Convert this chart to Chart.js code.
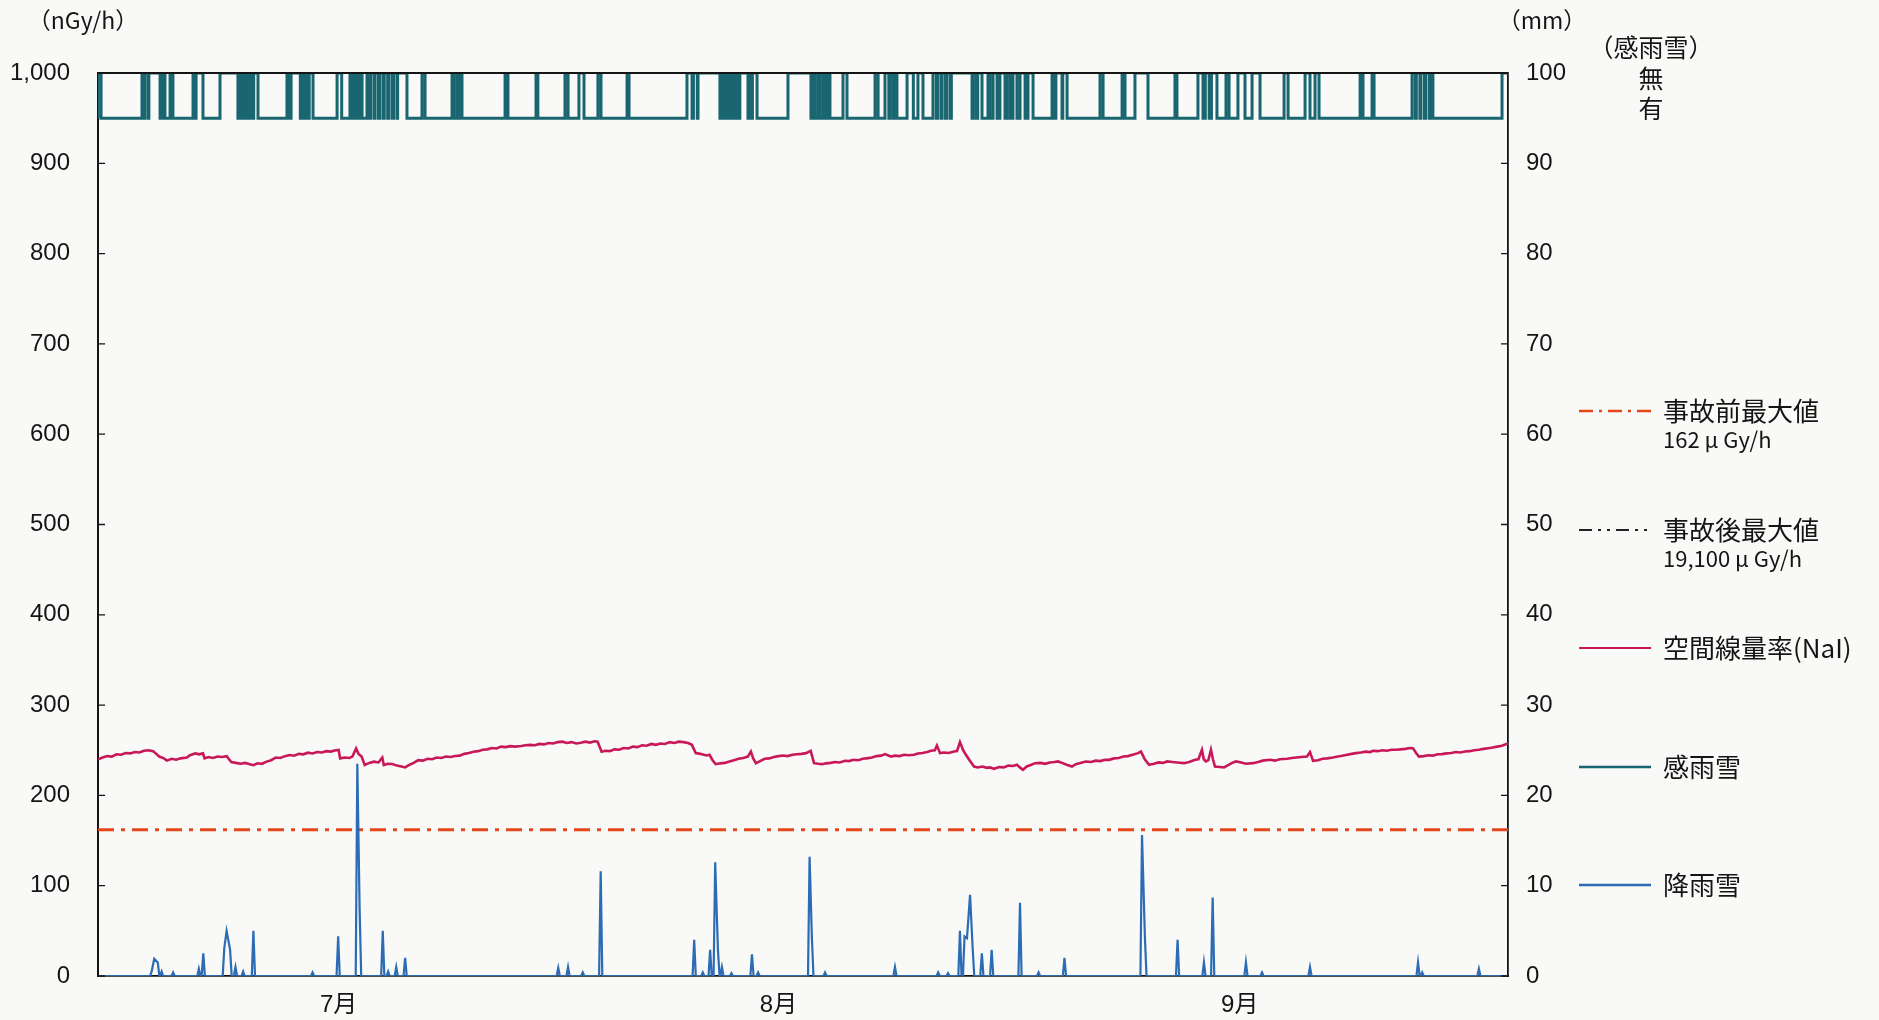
<!DOCTYPE html>
<html lang="ja">
<head>
<meta charset="utf-8">
<title>空間線量率・感雨雪・降雨雪</title>
<script src="https://cdn.jsdelivr.net/npm/chart.js@4.4.1/dist/chart.umd.min.js"></script>
<style>
  html, body { margin: 0; padding: 0; background: #f9f9f7; }
  canvas { display: block; }
</style>
</head>
<body>
<canvas id="c" width="1879" height="1020"></canvas>
<script>
// ---- data (x = days from the start of July) ----
const dayMax = 92;
const monthLabels = ['7月', '8月', '9月'];
const monthLabelDays = [15.7, 44.4, 74.5];

const doseTicks = [0, 100, 200, 300, 400, 500, 600, 700, 800, 900, 1000];
const rainTicks = [0, 10, 20, 30, 40, 50, 60, 70, 80, 90, 100];

// pre-accident maximum (nGy/h)
const preAccidentMax = 162;

// air dose rate, NaI detector [day, nGy/h]
const doseRateNaI = [
  [0,240],[0.3,242],[0.6,243.5],[0.9,243],[1.2,245.5],[1.5,245],[1.8,247],[2.1,246.5],[2.4,248],[2.7,247.5],
  [3.0,249.5],[3.3,250],[3.6,249],[3.8,246],[4.0,243],[4.3,241],[4.5,238.5],[4.8,240.5],[5.1,239.5],[5.4,241],
  [5.8,242],[6.0,244.5],[6.35,246.5],[6.6,245.5],[6.85,246.5],[6.95,241],[7.2,242.5],[7.5,241.5],[7.8,243],[8.1,242.5],
  [8.4,243.5],[8.55,240],[8.7,237],[9.0,236],[9.3,235],[9.6,236],[9.9,234.5],[10.15,233.5],[10.4,235.6],[10.7,235],
  [11.0,237.4],[11.3,239],[11.6,242],[11.9,241.5],[12.2,243.5],[12.5,244.7],[12.8,244],[13.1,246],[13.4,245.5],[13.7,247.3],
  [14.0,246.5],[14.3,248],[14.6,247.5],[14.9,249],[15.2,248.5],[15.5,250],[15.7,250.3],[15.8,241],[16.1,242],[16.4,241.5],
  [16.6,243],[16.84,252],[17.0,246],[17.2,243],[17.4,233.7],[17.7,236],[18.0,237.4],[18.3,236.5],[18.55,242],[18.65,233.7],
  [18.9,235],[19.2,234.8],[19.5,233],[19.8,232],[20.05,231],[20.3,233.7],[20.6,236],[20.9,239],[21.2,238.5],[21.5,240.5],
  [21.8,240],[22.1,242],[22.4,241.5],[22.7,243],[23.0,242.5],[23.3,243.6],[23.6,244],[23.9,246],[24.2,247],[24.5,248.4],
  [24.8,249],[25.1,250.5],[25.4,251],[25.7,252.5],[26.0,252],[26.3,254],[26.6,253.5],[26.9,254.5],[27.2,254],[27.6,254.7],
  [27.9,255.5],[28.2,256],[28.5,255.5],[28.8,257],[29.1,256.5],[29.4,258],[29.7,257.5],[30.0,259],[30.3,259.5],[30.6,258],
  [30.9,259],[31.2,257.5],[31.5,258.4],[31.8,259.5],[32.1,258.5],[32.4,260],[32.6,259.5],[32.86,248.4],[33.1,249.5],[33.4,249],
  [33.7,251],[34.0,250.5],[34.3,252.5],[34.6,252],[34.9,254],[35.2,253.5],[35.5,255.5],[35.8,255],[36.1,257],[36.4,256],
  [36.7,257.5],[37.0,257],[37.3,259],[37.6,258],[37.9,259.5],[38.2,259],[38.5,258],[38.75,256],[39.0,246.8],[39.3,246],
  [39.7,244.2],[39.9,245],[40.1,239],[40.3,234.6],[40.6,235.5],[40.9,236],[41.2,237.6],[41.5,239],[41.8,240.5],[42.1,241.5],
  [42.4,243],[42.6,248.6],[42.75,241],[42.93,235.7],[43.2,238],[43.5,240.5],[43.8,241],[44.1,242.5],[44.4,243.5],[44.7,244.2],
  [45.0,243.5],[45.3,245],[45.6,245.5],[45.9,246],[46.2,246.8],[46.5,249.4],[46.72,235.7],[47.0,235],[47.24,234.6],[47.5,235.5],
  [47.8,236],[48.1,237],[48.4,236.5],[48.74,238.3],[49.0,238],[49.3,239.5],[49.6,239],[49.9,240.5],[50.24,241.3],[50.5,242],
  [50.8,243.5],[51.1,244],[51.35,245.7],[51.74,243],[52.0,244],[52.3,243.5],[52.6,245],[52.9,244.5],[53.24,245],[53.5,246.5],
  [53.8,247],[54.1,248],[54.35,249.4],[54.6,250],[54.74,255.2],[54.94,246.8],[55.2,247.5],[55.5,247],[55.85,248.6],[56.05,249],
  [56.24,259],[56.45,250],[56.63,245],[56.9,238],[57.16,232],[57.4,231],[57.7,232],[58.0,230.5],[58.2,231],[58.46,229.5],
  [58.8,231.5],[59.1,231],[59.4,233],[59.7,232.5],[59.96,233.9],[60.15,231],[60.35,228.4],[60.6,232],[60.9,234],[61.14,235.7],
  [61.5,236],[61.8,235],[62.1,236.5],[62.4,237],[62.64,237.6],[62.9,236],[63.2,234],[63.55,232],[63.8,234.5],[64.1,236],
  [64.46,237.6],[64.8,237],[65.1,238.5],[65.4,238],[65.7,239.5],[65.97,239.4],[66.3,241],[66.6,241.5],[66.9,243],[67.2,243.5],
  [67.5,245],[67.86,246.8],[68.05,248.6],[68.3,240],[68.58,233.9],[68.9,235],[69.2,236.5],[69.5,236],[69.75,237.6],[70.1,237],
  [70.4,236.5],[70.86,235.7],[71.2,237],[71.58,239.4],[71.8,240],[72.03,250.5],[72.15,240],[72.29,237.6],[72.45,239],[72.62,250.5],
  [72.75,240],[72.88,232],[73.2,231.5],[73.47,231],[73.8,234],[74.0,236],[74.25,237.6],[74.6,236.5],[74.9,235],[75.36,235.7],
  [75.7,237],[76.0,238.5],[76.47,239.4],[76.8,238.5],[77.1,240],[77.58,240.5],[77.9,241.5],[78.2,242],[78.5,242.5],[78.88,243],
  [79.08,247.9],[79.28,238.3],[79.6,239],[79.9,240.5],[80.2,241],[80.58,242],[80.9,243],[81.2,244],[81.5,245],[81.8,246],
  [82.08,246.8],[82.4,247.5],[82.7,248.5],[83.0,248],[83.19,249.4],[83.5,249],[83.8,250],[84.1,249.5],[84.4,250.5],[84.69,250.5],
  [85.0,251],[85.3,251.5],[85.6,252.5],[85.8,252.3],[86.0,247],[86.19,243],[86.5,243.5],[86.8,244.5],[87.1,244],[87.4,245.5],
  [87.69,245.7],[88.0,246.5],[88.3,247],[88.6,248],[88.9,247.5],[89.19,248.6],[89.5,249],[89.8,250],[90.1,250.5],[90.4,251.5],
  [90.7,252.3],[91.0,253],[91.3,254],[91.6,255],[92.0,257.5]
];

// precipitation events [day, mm]; every other hour is 0 mm
const precipitation = [
  [3.5,0.5],[3.67,1.9],[3.9,1.5],[4.15,0.5],[4.9,0.4],[6.58,0.8],[6.87,2.5],[8.24,3.1],[8.39,5.0],[8.62,2.9],
  [8.97,1.0],[9.47,0.5],[10.14,5.0],[14.0,0.4],[15.67,4.4],[16.92,23.5],[17.07,7.4],[18.58,5.0],[18.93,0.5],[19.46,1.0],
  [20.04,2.0],[30.03,0.9],[30.67,1.0],[31.63,0.4],[32.8,11.6],[38.9,4.0],[39.46,0.4],[39.94,2.9],[40.27,12.6],[40.45,2.9],
  [40.71,1.0],[41.33,0.3],[42.67,2.4],[43.07,0.4],[46.43,13.2],[46.58,4.2],[47.44,0.4],[52.0,1.0],[54.82,0.4],[55.46,0.3],
  [56.24,5.0],[56.54,4.4],[56.7,4.2],[56.9,9.0],[57.07,3.1],[57.67,2.5],[58.31,2.9],[60.16,8.1],[61.37,0.4],[63.06,2.0],
  [68.12,15.6],[68.31,4.2],[70.44,4.0],[72.16,1.5],[72.73,8.7],[74.9,1.5],[75.95,0.4],[79.08,1.0],[86.13,1.5],[86.4,0.4],
  [90.1,0.8]
];

// rain sensor: periods with rain detected (有) [startDay, endDay]
const rainSensorOn = [
  [0.00,0.20],
  [2.87,2.97],[3.05,3.26],[3.32,4.05],[4.10,4.20],[4.27,4.37],
  [4.70,4.89],
  [6.20,6.30],[6.40,6.85],
  [7.96,9.13],[9.18,9.30],[9.36,9.50],[9.56,9.70],[9.76,9.90],[9.96,10.10],[10.16,10.44],
  [12.33,12.50],[12.60,13.20],[13.28,13.45],[13.52,13.70],[13.78,14.03],
  [15.60,15.90],
  [16.44,16.60],[16.75,16.90],[17.05,17.23],
  [17.55,17.70],[17.78,18.00],[18.08,18.30],[18.38,18.60],[18.68,18.90],[18.98,19.20],[19.28,19.50],[19.55,20.16],
  [21.14,21.34],
  [23.10,23.20],[23.40,23.50],[23.65,23.75],
  [26.56,26.75],
  [28.58,28.70],
  [30.47,30.67],
  [31.38,31.71],
  [32.62,32.82],
  [34.52,34.65],
  [38.43,38.76],[38.85,39.10],[39.15,40.58],[40.65,40.80],[40.88,41.05],[41.12,41.30],[41.38,41.55],[41.62,41.80],[41.88,42.41],[42.48,42.62],[42.70,43.00],
  [45.02,46.52],[46.62,46.75],[46.95,47.10],[47.30,47.45],[47.60,47.76],
  [48.61,48.87],
  [50.70,50.90],[51.35,51.60],[51.70,51.90],[52.00,52.13],
  [52.79,53.20],[53.50,53.83],
  [54.48,54.70],[54.78,55.00],[55.08,55.30],[55.38,55.60],[55.68,57.03],[57.10,57.30],[57.40,57.68],[58.07,58.20],[58.40,58.66],[58.85,59.18],[59.31,59.51],[59.70,59.96],[60.16,60.49],[60.68,61.01],
  [62.25,62.44],[62.50,62.90],[62.95,63.23],
  [65.38,65.58],
  [66.82,67.01],
  [67.66,68.51],
  [70.27,70.40],
  [71.77,72.10],[72.25,72.50],[72.65,73.01],
  [73.60,73.80],
  [74.38,74.84],
  [75.30,75.82],
  [77.39,77.65],
  [78.76,79.08],
  [79.41,79.67],
  [82.35,82.54],
  [83.13,83.26],
  [85.74,85.95],[86.02,86.25],[86.32,86.55],[86.62,86.85],[86.92,87.10],
  [91.61,91.80]
];

// ---- build datasets ----
const COL_DOSE = '#c8185a';
const COL_SENSOR = '#1a6670';
const COL_RAIN = '#2c6cb4';
const COL_PRE = '#e4461a';
const COL_AXIS = '#151515';
const COL_TEXT = '#151515';
const FONT = "'Liberation Sans','Noto Sans CJK JP',sans-serif";
const FONT_JP = "'Noto Sans CJK JP','Liberation Sans',sans-serif";

// sensor state: 1 = 無, 0 = 有
const sensorPoints = [{ x: 0, y: 1 }];
rainSensorOn.forEach(([s, e]) => {
  sensorPoints.push({ x: s, y: 0 });
  sensorPoints.push({ x: e, y: 1 });
});
sensorPoints.push({ x: dayMax, y: 1 });

// precipitation: zero readings around each event
const rainPoints = [{ x: 0, y: 0 }];
const hourDay = 1 / 24;
precipitation.forEach(([d, mm], i) => {
  const prev = i > 0 ? precipitation[i - 1][0] : -1;
  const next = i < precipitation.length - 1 ? precipitation[i + 1][0] : dayMax + 1;
  if (d - prev > 6 * hourDay) rainPoints.push({ x: d - 2.5 * hourDay, y: 0 });
  rainPoints.push({ x: d, y: mm });
  if (next - d > 6 * hourDay) rainPoints.push({ x: d + 2.5 * hourDay, y: 0 });
});
rainPoints.push({ x: dayMax, y: 0 });

const dosePoints = doseRateNaI.map(([d, v]) => ({ x: d, y: v }));
const prePoints = [{ x: 0, y: preAccidentMax }, { x: dayMax, y: preAccidentMax }];

// ---- plugins ----
const paperPlugin = {
  id: 'paper',
  beforeDraw(chart) {
    const c = chart.ctx;
    c.save();
    c.fillStyle = '#f9f9f7';
    c.fillRect(0, 0, chart.width, chart.height);
    c.restore();
  }
};

const framePlugin = {
  id: 'frame',
  afterDatasetsDraw(chart) {
    const c = chart.ctx;
    const a = chart.chartArea;
    const yL = chart.scales.y, yR = chart.scales.yRain;
    c.save();
    c.strokeStyle = COL_AXIS;
    c.lineWidth = 1.8;
    c.beginPath();
    c.moveTo(a.left, a.top);
    c.lineTo(a.right, a.top);
    c.stroke();
    c.lineWidth = 1.3;
    c.beginPath();
    doseTicks.forEach(v => {
      const y = yL.getPixelForValue(v);
      c.moveTo(a.left, y);
      c.lineTo(a.left + 7, y);
    });
    rainTicks.forEach(v => {
      const y = yR.getPixelForValue(v);
      c.moveTo(a.right, y);
      c.lineTo(a.right - 7, y);
    });
    c.stroke();
    c.restore();
  }
};

const textPlugin = {
  id: 'texts',
  afterDraw(chart) {
    const c = chart.ctx;
    const ys = chart.scales.ySensor;
    c.save();
    c.fillStyle = COL_TEXT;
    c.textAlign = 'center';
    c.textBaseline = 'middle';
    c.font = '23px ' + FONT_JP;
    c.fillText('（nGy/h）', 83, 20);
    c.fillText('（mm）', 1542, 20);
    c.font = '25px ' + FONT_JP;
    c.fillText('（感雨雪）', 1651, 47);
    c.fillText('無', 1651, ys.getPixelForValue(1) + 5);
    c.fillText('有', 1651, ys.getPixelForValue(0) - 10);

    // legend
    const lx0 = 1579, lx1 = 1651, tx = 1663;
    const items = [
      { y: 411, label: '事故前最大値', sub: '162 μ Gy/h', color: COL_PRE, dash: [14, 6, 3, 6], w: 2.6 },
      { y: 530, label: '事故後最大値', sub: '19,100 μ Gy/h', color: '#222', dash: [13, 6, 3, 6, 3, 6], w: 2 },
      { y: 648, label: '空間線量率(NaI)', color: COL_DOSE, w: 2.2 },
      { y: 767, label: '感雨雪', color: COL_SENSOR, w: 2.4 },
      { y: 885, label: '降雨雪', color: COL_RAIN, w: 2.4 }
    ];
    items.forEach(it => {
      c.strokeStyle = it.color;
      c.lineWidth = it.w;
      c.setLineDash(it.dash || []);
      c.beginPath();
      c.moveTo(lx0, it.y);
      c.lineTo(lx1, it.y);
      c.stroke();
      c.setLineDash([]);
      c.textAlign = 'left';
      c.fillStyle = COL_TEXT;
      c.font = '26px ' + FONT_JP;
      c.fillText(it.label, tx, it.y);
      if (it.sub) {
        c.font = '22px ' + FONT_JP;
        c.fillText(it.sub, tx, it.y + 29);
      }
    });
    c.restore();
  }
};

// ---- chart ----
new Chart(document.getElementById('c'), {
  type: 'line',
  data: {
    datasets: [
      {
        label: '降雨雪', data: rainPoints, yAxisID: 'yRain', order: 1,
        borderColor: COL_RAIN, borderWidth: 2.2, pointRadius: 0, tension: 0
      },
      {
        label: '空間線量率（NaI）', data: dosePoints, yAxisID: 'y', order: 2,
        borderColor: COL_DOSE, borderWidth: 2.6, pointRadius: 0, tension: 0
      },
      {
        label: '事故前最大値', data: prePoints, yAxisID: 'y', order: 3,
        borderColor: COL_PRE, borderWidth: 3, borderDash: [16, 7, 4, 7], pointRadius: 0
      },
      {
        label: '感雨雪', data: sensorPoints, yAxisID: 'ySensor', order: 4,
        borderColor: COL_SENSOR, borderWidth: 3, pointRadius: 0, stepped: 'after'
      }
    ]
  },
  options: {
    responsive: false,
    animation: false,
    events: [],
    layout: { padding: { left: 0, right: 311, top: 73, bottom: 0 } },
    plugins: { legend: { display: false }, tooltip: { enabled: false } },
    scales: {
      x: {
        type: 'linear', min: 0, max: dayMax,
        grid: { display: false, drawTicks: false },
        border: { display: true, color: COL_AXIS, width: 1.8 },
        afterBuildTicks: s => { s.ticks = monthLabelDays.map(v => ({ value: v })); },
        ticks: {
          autoSkip: false, maxRotation: 0, padding: 15, color: COL_TEXT,
          font: { family: FONT, size: 24 },
          callback: (v, i) => monthLabels[i]
        },
        afterFit: s => { s.height = 44; }
      },
      y: {
        position: 'left', min: 0, max: 1000,
        grid: { display: false, drawTicks: false },
        border: { display: true, color: COL_AXIS, width: 2 },
        afterBuildTicks: s => { s.ticks = doseTicks.map(v => ({ value: v })); },
        ticks: {
          padding: 28, color: COL_TEXT, font: { family: FONT, size: 24 },
          callback: v => v.toLocaleString('en-US')
        },
        afterFit: s => { s.width = 98; }
      },
      yRain: {
        position: 'right', min: 0, max: 100,
        grid: { display: false, drawTicks: false },
        border: { display: true, color: COL_AXIS, width: 1.8 },
        afterBuildTicks: s => { s.ticks = rainTicks.map(v => ({ value: v })); },
        ticks: {
          padding: 18, color: COL_TEXT, font: { family: FONT, size: 24 },
          callback: v => String(v)
        },
        afterFit: s => { s.width = 60; }
      },
      ySensor: { display: false, min: -19, max: 1 }
    }
  },
  plugins: [paperPlugin, framePlugin, textPlugin]
});
</script>
</body>
</html>
